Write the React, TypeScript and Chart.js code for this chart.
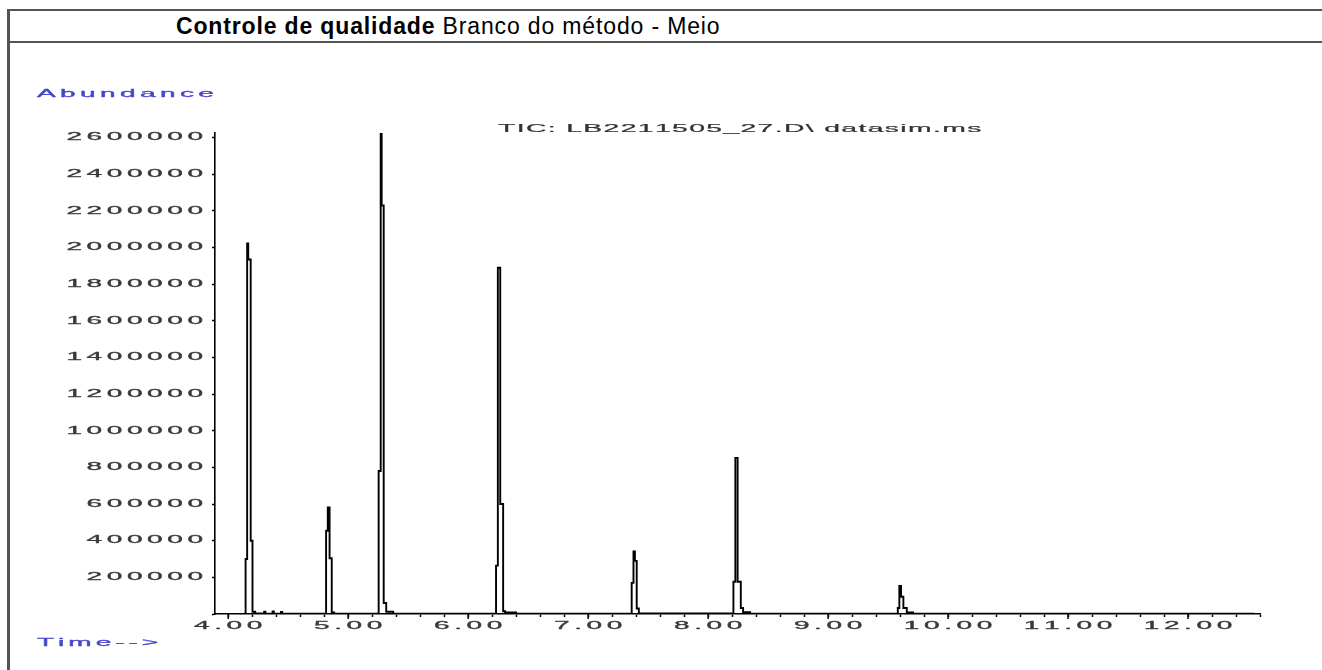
import React, { useEffect, useRef } from 'react';
import { Chart, registerables } from 'chart.js';

Chart.register(...registerables);

// ---- data (retention time in minutes, abundance) ----
const TIME_MIN = [
  3.95,
  4.14, 4.145, 4.158, 4.167, 4.1875, 4.2025, 4.225,
  4.30, 4.31, 4.37, 4.38, 4.44, 4.45,
  4.80, 4.816, 4.830, 4.845, 4.863, 4.883,
  5.24, 5.254, 5.271, 5.279, 5.296, 5.317, 5.375,
  6.22, 6.2325, 6.2475, 6.2675, 6.2917, 6.308, 6.40,
  7.35, 7.363, 7.378, 7.390, 7.405, 7.4225,
  8.20, 8.211, 8.227, 8.246, 8.2725, 8.2917, 8.35,
  9.57, 9.581, 9.594, 9.608, 9.6275, 9.656, 9.708,
  12.55,
];
const ABUNDANCE = [
  0,
  2000, 300000, 2022000, 1935000, 400000, 12000, 3000,
  12000, 2000, 14000, 2000, 11000, 2000,
  2000, 454000, 582000, 304000, 8000, 2000,
  2000, 780000, 2625000, 2229000, 60000, 12000, 2000,
  2000, 264000, 1890000, 600000, 15000, 8000, 2000,
  2000, 170000, 342000, 290000, 30000, 3000,
  2000, 176000, 852000, 176000, 33000, 10000, 2000,
  2000, 33000, 153000, 94000, 33000, 8000, 2000,
  2000,
];

const Y_TICKS = [200000, 400000, 600000, 800000, 1000000, 1200000, 1400000, 1600000, 1800000, 2000000, 2200000, 2400000, 2600000];
const Y_TICK_LABELS = ['200000', '400000', '600000', '800000', '1000000', '1200000', '1400000', '1600000', '1800000', '2000000', '2200000', '2400000', '2600000'];
const X_TICKS = [4, 5, 6, 7, 8, 9, 10, 11, 12];
const X_TICK_LABELS = ['4.00', '5.00', '6.00', '7.00', '8.00', '9.00', '10.00', '11.00', '12.00'];

const Y_AXIS_TITLE = 'Abundance';
const X_AXIS_TITLE = 'Time-->';
const TRACE_LABEL = 'TIC: LB2211505_27.D\\ datasim.ms';

const X_MIN = 3.89;
const X_MAX = 12.6;
const Y_MAX = 2625000;

const FONT = '"Liberation Sans", Arial, sans-serif';

function drawStretched(
  ctx: CanvasRenderingContext2D,
  text: string,
  x: number,
  y: number,
  size: number,
  sx: number,
  sp: number,
  color: string,
  align: 'left' | 'right' | 'center',
  weight = 0.3
) {
  ctx.save();
  ctx.font = `${size}px ${FONT}`;
  ctx.fillStyle = color;
  ctx.strokeStyle = color;
  ctx.lineWidth = weight;
  ctx.lineJoin = 'round';
  ctx.textBaseline = 'middle';
  ctx.textAlign = 'left';
  const chars = Array.from(text);
  const widths = chars.map((c) => ctx.measureText(c).width * sx);
  const total = widths.reduce((a, b) => a + b, 0) + sp * (chars.length - 1);
  let cx = align === 'right' ? x - total : align === 'center' ? x - total / 2 : x;
  chars.forEach((c, i) => {
    ctx.save();
    ctx.translate(cx, y);
    ctx.scale(sx, 1);
    ctx.fillText(c, 0, 0);
    if (weight > 0) ctx.strokeText(c, 0, 0);
    ctx.restore();
    cx += widths[i] + sp;
  });
  ctx.restore();
}

const textPlugin = {
  id: 'chemText',
  afterDraw(chart: any) {
    const ctx: CanvasRenderingContext2D = chart.ctx;
    const xs = chart.scales.x;
    const ys = chart.scales.y;
    const area = chart.chartArea;
    // y tick labels
    Y_TICKS.forEach((v, i) => {
      drawStretched(ctx, Y_TICK_LABELS[i], area.left - 12, ys.getPixelForValue(v), 10, 2.8, 4.6, '#3a3a3a', 'right');
    });
    // x major ticks + labels
    ctx.save();
    ctx.strokeStyle = '#000';
    ctx.lineWidth = 1.5;
    X_TICKS.forEach((t, i) => {
      const px = xs.getPixelForValue(t);
      ctx.beginPath();
      ctx.moveTo(px, area.bottom);
      ctx.lineTo(px, area.bottom + 5);
      ctx.stroke();
      drawStretched(ctx, X_TICK_LABELS[i], px, area.bottom + 12, 10, 2.8, 4.6, '#3a3a3a', 'center');
    });
    ctx.restore();
    drawStretched(ctx, Y_AXIS_TITLE, 37, 94, 10, 2.8, 4.4, '#4646cc', 'left');
    drawStretched(ctx, X_AXIS_TITLE, 37, 643, 10, 2.8, 4.0, '#4646cc', 'left');
    drawStretched(ctx, TRACE_LABEL, 498, 129, 10.5, 2.7, 1.35, '#333', 'left', 0.2);
  },
};

function ChromChart() {
  const ref = useRef<HTMLCanvasElement | null>(null);
  useEffect(() => {
    if (!ref.current) return;
    const points = TIME_MIN.map((t, i) => ({ x: t, y: ABUNDANCE[i] }));
    const minorTicks: number[] = [];
    X_TICKS.forEach((t) => {
      for (let k = 1; k < 5; k++) minorTicks.push(Math.round((t + k * 0.2) * 10) / 10);
    });
    const chart = new Chart(ref.current, {
      type: 'line',
      data: {
        datasets: [
          {
            label: TRACE_LABEL,
            data: points,
            borderColor: '#000',
            borderWidth: 1.9,
            pointRadius: 0,
            stepped: true,
            fill: false,
          },
        ],
      },
      options: {
        animation: false,
        responsive: false,
        maintainAspectRatio: false,
        layout: { padding: { left: 215, top: 133, right: 62, bottom: 56 } },
        plugins: { legend: { display: false }, tooltip: { enabled: false }, title: { display: false } },
        scales: {
          x: {
            type: 'linear',
            min: X_MIN,
            max: X_MAX,
            afterBuildTicks: (scale: any) => {
              scale.ticks = [...X_TICKS, ...minorTicks.filter((v) => v <= X_MAX)].map((v) => ({ value: v }));
            },
            afterFit: (scale: any) => {
              scale.height = 0;
            },
            ticks: { display: false },
            grid: { drawOnChartArea: false, drawTicks: true, tickLength: 3, tickColor: '#000', tickWidth: 1.5 },
            border: { display: true, color: '#000', width: 1.6 },
          },
          y: {
            type: 'linear',
            min: 0,
            max: Y_MAX,
            afterBuildTicks: (scale: any) => {
              scale.ticks = [0, ...Y_TICKS].map((v) => ({ value: v }));
            },
            afterFit: (scale: any) => {
              scale.width = 0;
            },
            ticks: { display: false },
            grid: { drawOnChartArea: false, drawTicks: true, tickLength: 3, tickColor: '#000', tickWidth: 1.5 },
            border: { display: true, color: '#000', width: 1.6 },
          },
        },
      },
      plugins: [textPlugin],
    });
    return () => chart.destroy();
  }, []);
  return (
    <canvas
      ref={ref}
      width={1322}
      height={670}
      style={{ position: 'absolute', left: 0, top: 0, width: 1322, height: 670 }}
    />
  );
}

export default function App() {
  return (
    <div style={{ position: 'absolute', left: 0, top: 0, width: 1322, height: 670, overflow: 'hidden', background: '#fff' }}>
      <div style={{ position: 'absolute', left: 7, top: 9, width: 1315, height: 2, background: '#555' }} />
      <div style={{ position: 'absolute', left: 7, top: 41, width: 1315, height: 2, background: '#555' }} />
      <div style={{ position: 'absolute', left: 7, top: 9, width: 3, height: 661, background: '#555' }} />
      <div
        style={{
          position: 'absolute',
          left: 176,
          top: 11,
          height: 30,
          lineHeight: '30px',
          fontFamily: FONT,
          fontSize: 23,
          letterSpacing: '0.85px',
          whiteSpace: 'nowrap',
          color: '#000',
        }}
      >
        <b>Controle de qualidade</b> Branco do método - Meio
      </div>
      <ChromChart />
    </div>
  );
}
